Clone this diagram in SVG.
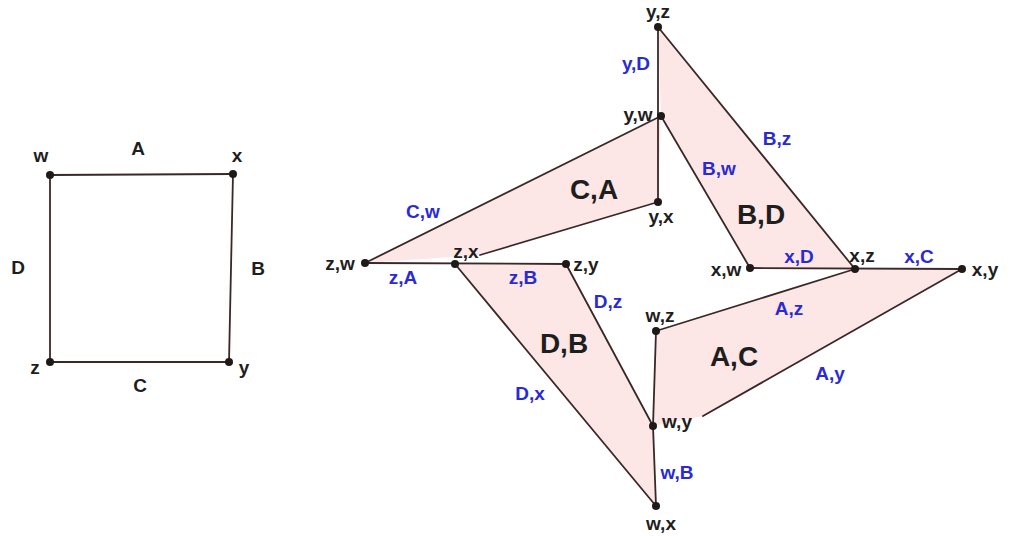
<svg xmlns="http://www.w3.org/2000/svg" width="1015" height="536" viewBox="0 0 1015 536">
<style>
.ln{stroke:#3a2828;stroke-width:1.8;fill:none;stroke-linecap:round}
.fl{fill:#fde6e6;stroke:none}
.dot{fill:#1e1a1a}
.t{font-family:"Liberation Sans",Arial,sans-serif;font-size:19px;font-weight:bold;fill:#1e1e1e}
.b{font-family:"Liberation Sans",Arial,sans-serif;font-size:19px;font-weight:bold;fill:#2a2ad4}
.big{font-family:"Liberation Sans",Arial,sans-serif;font-size:28px;font-weight:bold;fill:#1e1e1e}
</style>
<rect width="1015" height="536" fill="#ffffff"/>
<g id="faces">
<polygon class="fl" points="365,263 661,116 658,202 480,255"/>
<polygon class="fl" points="658,27 855,269 750,268 661,116"/>
<polygon class="fl" points="455,264 566,264 653,426 656,506"/>
<polygon class="fl" points="656,331 855,269 962,269 703,416 653,426"/>
</g>
<g id="connectors">
<line class="ln" x1="50" y1="175" x2="233" y2="174"/>
<line class="ln" x1="233" y1="174" x2="229" y2="362"/>
<line class="ln" x1="229" y1="362" x2="50" y2="362"/>
<line class="ln" x1="50" y1="362" x2="50" y2="175"/>
<line class="ln" x1="658" y1="27" x2="658" y2="202"/>
<line class="ln" x1="365" y1="263" x2="661" y2="116"/>
<line class="ln" x1="658" y1="202" x2="480" y2="255"/>
<line class="ln" x1="658" y1="27" x2="855" y2="269"/>
<line class="ln" x1="661" y1="116" x2="750" y2="268"/>
<line class="ln" x1="750" y1="268" x2="962" y2="269"/>
<line class="ln" x1="365" y1="263" x2="566" y2="264"/>
<line class="ln" x1="455" y1="264" x2="656" y2="506"/>
<line class="ln" x1="566" y1="264" x2="653" y2="426"/>
<line class="ln" x1="656" y1="331" x2="653" y2="426"/>
<line class="ln" x1="653" y1="426" x2="656" y2="506"/>
<line class="ln" x1="656" y1="331" x2="855" y2="269"/>
<line class="ln" x1="962" y1="269" x2="703" y2="416"/>
</g>
<g id="square">
<circle class="dot" cx="50" cy="175" r="4"/>
<circle class="dot" cx="233" cy="174" r="4"/>
<circle class="dot" cx="229" cy="362" r="4"/>
<circle class="dot" cx="50" cy="362" r="4"/>
<text class="t" x="41" y="162" text-anchor="middle">w</text>
<text class="t" x="138" y="155" text-anchor="middle">A</text>
<text class="t" x="237" y="162" text-anchor="middle">x</text>
<text class="t" x="18" y="274" text-anchor="middle">D</text>
<text class="t" x="258" y="275" text-anchor="middle">B</text>
<text class="t" x="35" y="374" text-anchor="middle">z</text>
<text class="t" x="244" y="374" text-anchor="middle">y</text>
<text class="t" x="140" y="392" text-anchor="middle">C</text>
</g>
<g id="node-yz"><circle class="dot" cx="658" cy="27" r="4"/><text class="t" x="658" y="18" text-anchor="middle">y,z</text></g>
<g id="node-yw"><circle class="dot" cx="661" cy="116" r="4"/><text class="t" x="638" y="121" text-anchor="middle">y,w</text></g>
<g id="node-yx"><circle class="dot" cx="658" cy="202" r="4"/><text class="t" x="661" y="223" text-anchor="middle">y,x</text></g>
<g id="node-zw"><circle class="dot" cx="365" cy="263" r="4"/><text class="t" x="340" y="270" text-anchor="middle">z,w</text></g>
<g id="node-zx"><circle class="dot" cx="455" cy="264" r="4"/><text class="t" x="466" y="258" text-anchor="middle">z,x</text></g>
<g id="node-zy"><circle class="dot" cx="566" cy="264" r="4"/><text class="t" x="586" y="271" text-anchor="middle">z,y</text></g>
<g id="node-xw"><circle class="dot" cx="750" cy="268" r="4"/><text class="t" x="726" y="276" text-anchor="middle">x,w</text></g>
<g id="node-xz"><circle class="dot" cx="855" cy="269" r="4"/><text class="t" x="862" y="262" text-anchor="middle">x,z</text></g>
<g id="node-xy"><circle class="dot" cx="962" cy="269" r="4"/><text class="t" x="985" y="276" text-anchor="middle">x,y</text></g>
<g id="node-wz"><circle class="dot" cx="656" cy="331" r="4"/><text class="t" x="660" y="322" text-anchor="middle">w,z</text></g>
<g id="node-wy"><circle class="dot" cx="653" cy="426" r="4"/><text class="t" x="677" y="428" text-anchor="middle">w,y</text></g>
<g id="node-wx"><circle class="dot" cx="656" cy="506" r="4"/><text class="t" x="661" y="530" text-anchor="middle">w,x</text></g>
<g id="labels">
<text class="b" x="636" y="70" text-anchor="middle">y,D</text>
<text class="b" x="719" y="175" text-anchor="middle">B,w</text>
<text class="b" x="777" y="145" text-anchor="middle">B,z</text>
<text class="b" x="423" y="218" text-anchor="middle">C,w</text>
<text class="b" x="403" y="284" text-anchor="middle">z,A</text>
<text class="b" x="523" y="284" text-anchor="middle">z,B</text>
<text class="b" x="608" y="308" text-anchor="middle">D,z</text>
<text class="b" x="530" y="400" text-anchor="middle">D,x</text>
<text class="b" x="677" y="479" text-anchor="middle">w,B</text>
<text class="b" x="799" y="263" text-anchor="middle">x,D</text>
<text class="b" x="919" y="263" text-anchor="middle">x,C</text>
<text class="b" x="789" y="315" text-anchor="middle">A,z</text>
<text class="b" x="830" y="380" text-anchor="middle">A,y</text>
<text class="big" x="594" y="199" text-anchor="middle">C,A</text>
<text class="big" x="761" y="224" text-anchor="middle">B,D</text>
<text class="big" x="564" y="353" text-anchor="middle">D,B</text>
<text class="big" x="734" y="366" text-anchor="middle">A,C</text>
</g>
</svg>
